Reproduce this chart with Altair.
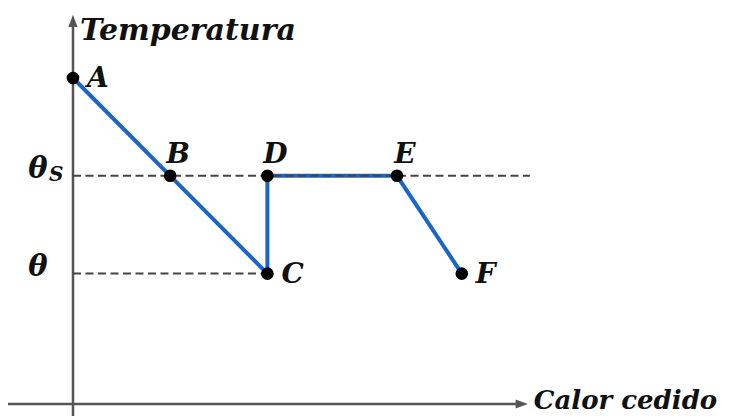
import altair as alt
import pandas as pd

# Curve points (heat released, temperature) in arbitrary units
names = ["A", "B", "C", "D", "E", "F"]
heat = [0, 3, 6, 6, 10, 12]
temp = [10, 7, 4, 7, 7, 4]

# Reference temperature levels
level_symbols = ["θ", "θ"]
level_subs = ["S", ""]
level_values = [7, 4]
level_ends = [14.1, 6]

# Axis extents (data units)
x_axis_min, x_axis_max = -2.1, 13.85
y_axis_min, y_axis_max = -0.6, 11.75
x_title = "Calor cedido"
y_title = "Temperatura"

xs = alt.Scale(domain=[-2.006, 20.278], nice=False, zero=False)
ys = alt.Scale(domain=[-0.368, 12.147], nice=False, zero=False)

FONT = "DejaVu Serif"
AXC = "#555555"
BLUE = "#1a66c6"
TXT = "#111111"

curve = pd.DataFrame({"name": names, "x": heat, "y": temp, "o": list(range(len(names)))})
levels = pd.DataFrame({"sym": level_symbols, "sub": level_subs, "y": level_values,
                       "x0": [0] * len(level_values), "x1": level_ends})
axes_df = pd.DataFrame({"x": [x_axis_min], "x2": [x_axis_max], "y": [y_axis_min], "y2": [y_axis_max],
                        "ox": [0], "oy": [0]})

X = lambda f: alt.X(f, type="quantitative", scale=xs, axis=None)
Y = lambda f: alt.Y(f, type="quantitative", scale=ys, axis=None)

xaxis = alt.Chart(axes_df).mark_rule(color=AXC, strokeWidth=2.5).encode(
    x=X("x"), x2="x2", y=Y("oy"))
yaxis = alt.Chart(axes_df).mark_rule(color=AXC, strokeWidth=2.5).encode(
    x=X("ox"), y=Y("y"), y2="y2")
xarrow = alt.Chart(axes_df).mark_point(
    shape="M-1,-0.75L1,0L-1,0.75Z", filled=True, color=AXC, opacity=1, size=150
).encode(x=X("x2"), y=Y("oy"))
yarrow = alt.Chart(axes_df).mark_point(
    shape="M-0.75,1L0,-1L0.75,1Z", filled=True, color=AXC, opacity=1, size=150
).encode(x=X("ox"), y=Y("y2"))

xtitle = alt.Chart(axes_df).mark_text(
    font=FONT, fontStyle="italic", fontWeight="bold", fontSize=26, align="left",
    baseline="middle", dx=12, dy=-3, color=TXT
).encode(x=X("x2"), y=Y("oy"), text=alt.value(x_title))
ytitle = alt.Chart(axes_df).mark_text(
    font=FONT, fontStyle="italic", fontWeight="bold", fontSize=30, align="left",
    baseline="alphabetic", dx=7, dy=19, color=TXT
).encode(x=X("ox"), y=Y("y2"), text=alt.value(y_title))

line = alt.Chart(curve).mark_line(color=BLUE, strokeWidth=4).encode(
    x=X("x"), y=Y("y"), order="o:Q")

dashes = alt.Chart(levels).mark_rule(color="#444444", strokeWidth=2, strokeDash=[8, 4.5]).encode(
    x=X("x0"), x2="x1", y=Y("y"))

dots = alt.Chart(curve).mark_circle(color="black", opacity=1, size=160).encode(
    x=X("x"), y=Y("y"))

lab_style = dict(font=FONT, fontStyle="italic", fontWeight="bold", fontSize=28, color=TXT)
lab_right = alt.Chart(curve).transform_filter(
    alt.FieldOneOfPredicate(field="name", oneOf=["A", "C", "F"])
).mark_text(align="left", baseline="middle", dx=14, dy=1, **lab_style).encode(
    x=X("x"), y=Y("y"), text="name:N")
lab_top = alt.Chart(curve).transform_filter(
    alt.FieldOneOfPredicate(field="name", oneOf=["B", "D", "E"])
).mark_text(align="center", baseline="alphabetic", dx=8, dy=-13, **lab_style).encode(
    x=X("x"), y=Y("y"), text="name:N")

sym = alt.Chart(levels).mark_text(
    font=FONT, fontStyle="italic", fontWeight="bold", fontSize=29, color=TXT,
    align="center", baseline="alphabetic", dx=-35, dy=2
).encode(x=X("x0"), y=Y("y"), text="sym:N")
sub = alt.Chart(levels).mark_text(
    font=FONT, fontStyle="italic", fontWeight="bold", fontSize=20, color=TXT,
    align="left", baseline="alphabetic", dx=-24, dy=5
).encode(x=X("x0"), y=Y("y"), text="sub:N")

chart = alt.layer(
    xaxis, yaxis, xarrow, yarrow, xtitle, ytitle, line, dashes, dots,
    lab_right, lab_top, sym, sub
).properties(
    width=722, height=408, autosize=alt.AutoSizeParams(type="none"), padding=0
).configure_view(stroke=None)

chart.save("out.html", embed_options={"renderer": "svg", "actions": False})
